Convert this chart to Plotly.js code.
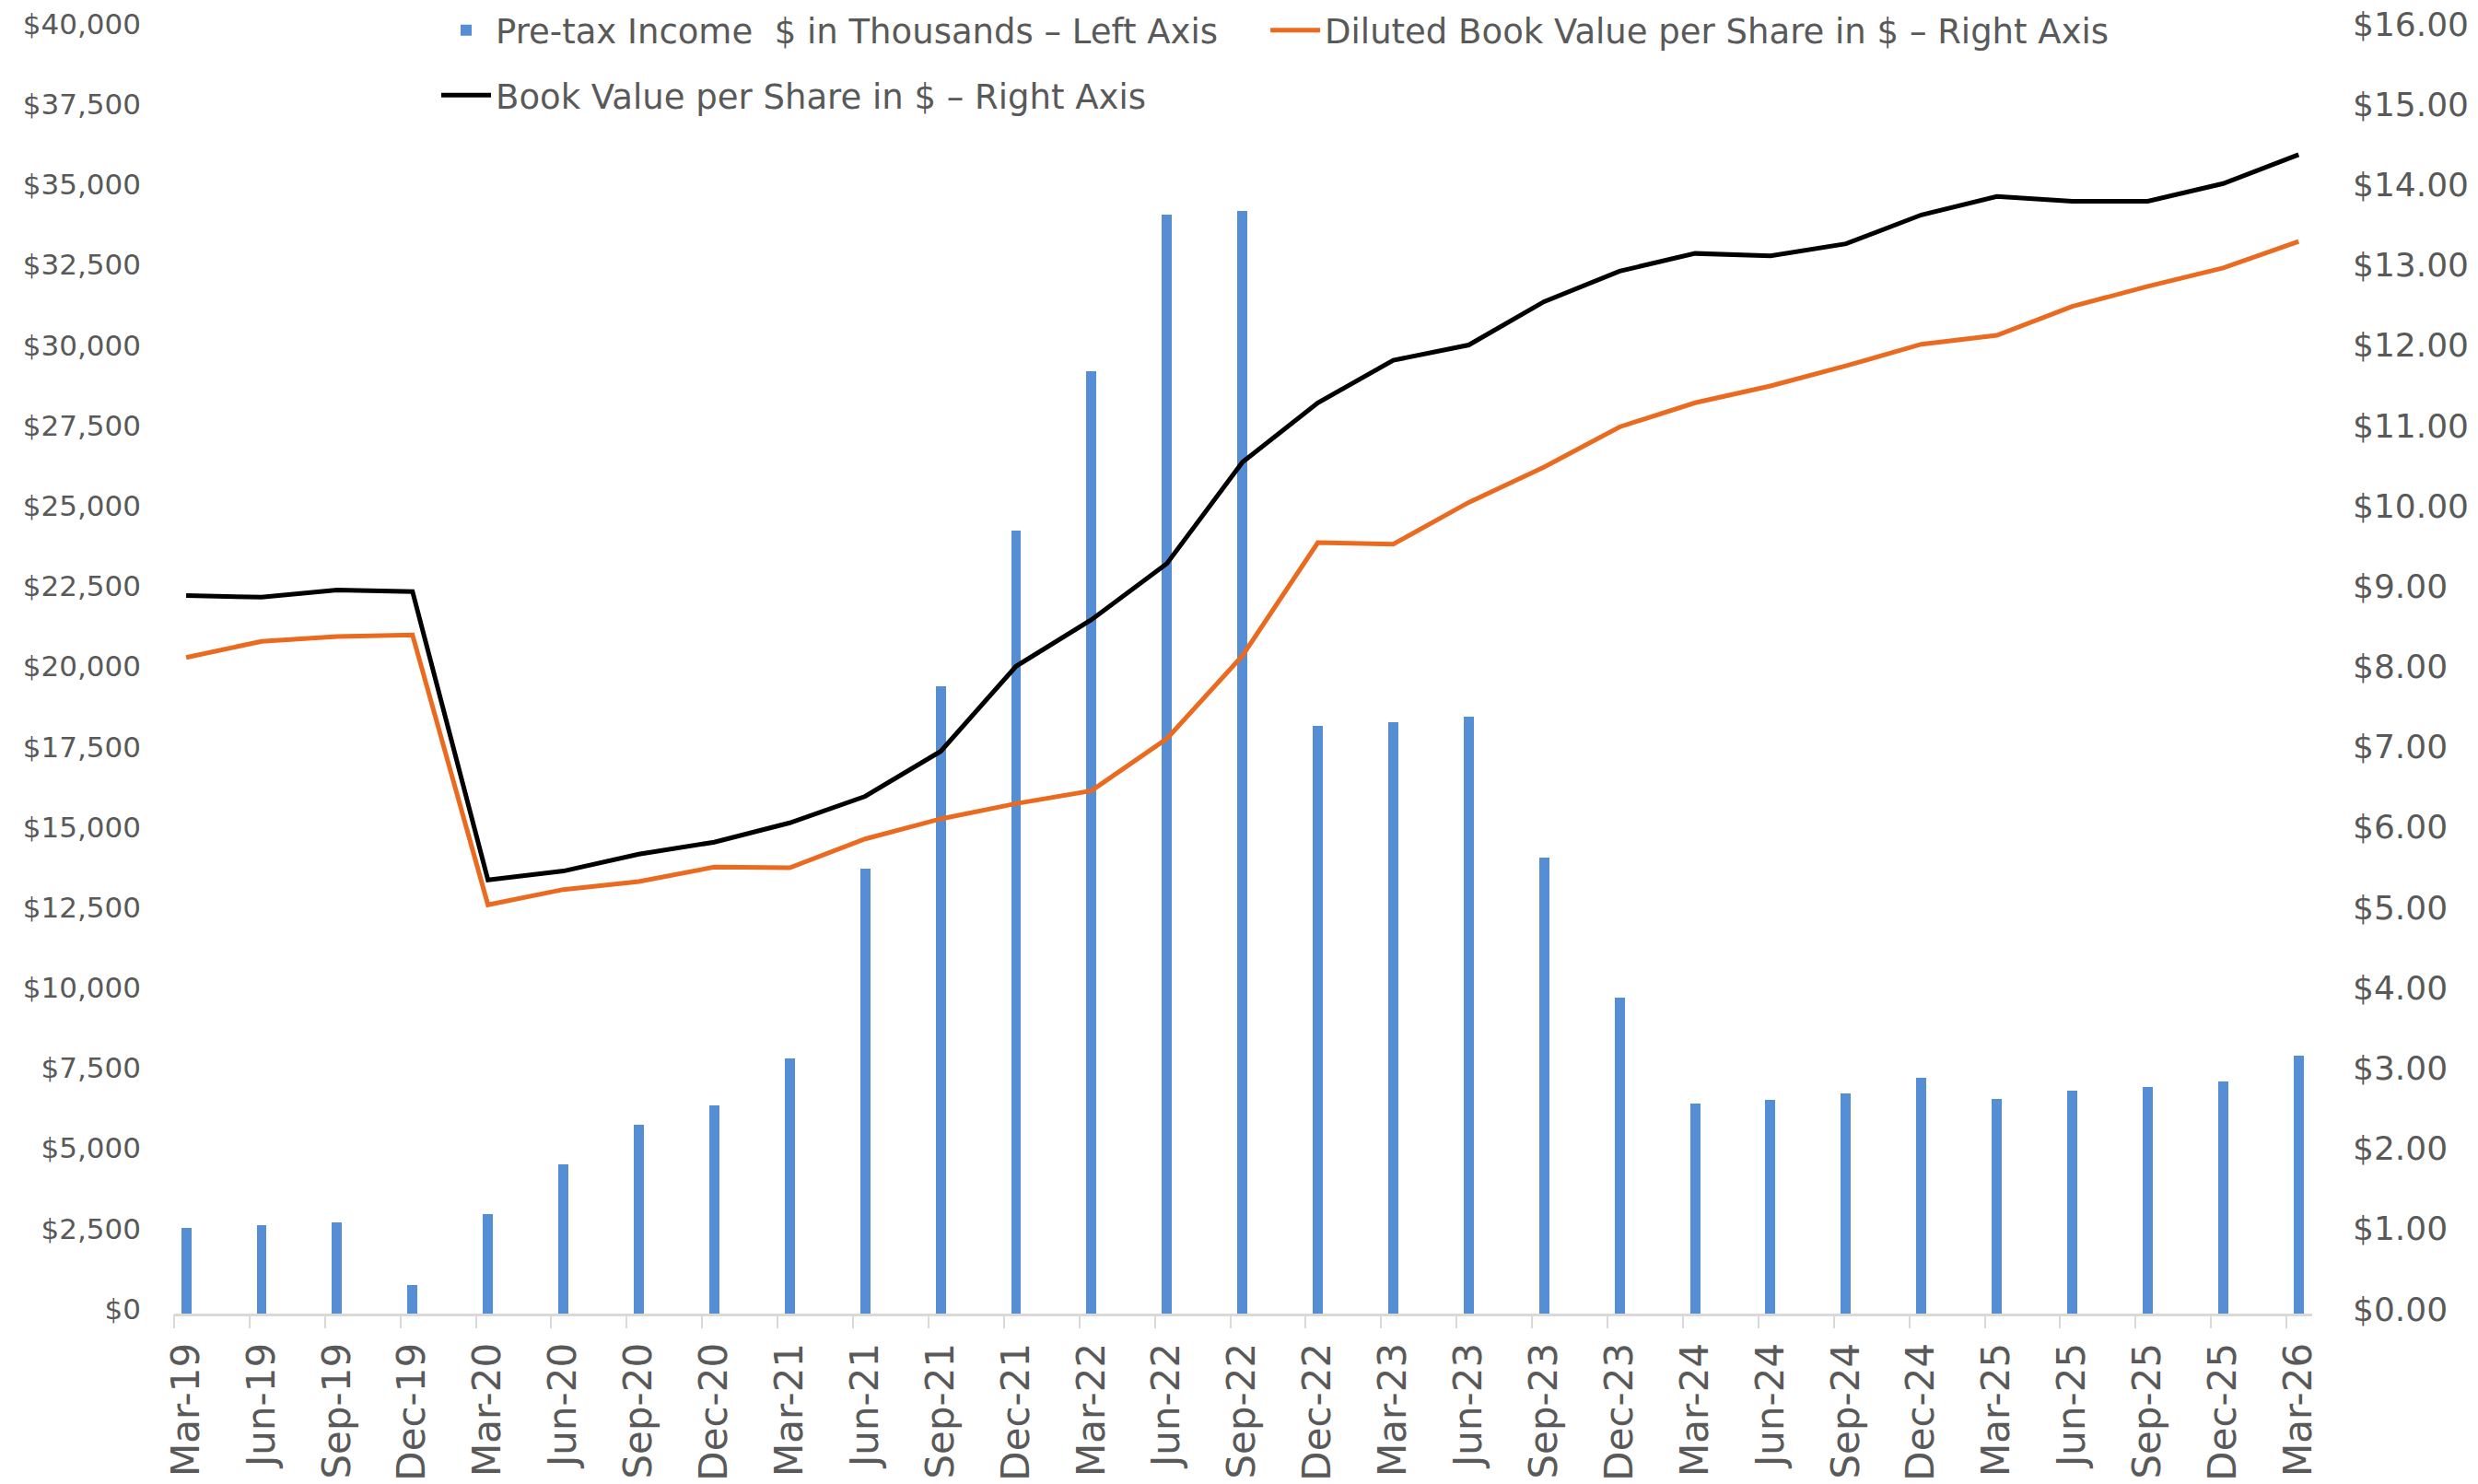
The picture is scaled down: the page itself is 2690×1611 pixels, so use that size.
<!DOCTYPE html>
<html>
<head>
<meta charset="utf-8">
<script src="https://cdn.plot.ly/plotly-3.0.1.min.js"></script>
<style>html,body{margin:0;padding:0;background:#fff;}#chart{width:2690px;height:1611px;}</style>
</head>
<body>
<div id="chart"></div>
<script>
const quarters = ['Mar-19','Jun-19','Sep-19','Dec-19','Mar-20','Jun-20','Sep-20','Dec-20','Mar-21','Jun-21','Sep-21','Dec-21','Mar-22','Jun-22','Sep-22','Dec-22','Mar-23','Jun-23','Sep-23','Dec-23','Mar-24','Jun-24','Sep-24','Dec-24','Mar-25','Jun-25','Sep-25','Dec-25','Mar-26'];
const pretaxIncome = [2680,2760,2830,880,3110,4640,5890,6470,7930,13860,19540,24360,29330,34200,34330,18290,18420,18590,14200,9830,6550,6660,6850,7350,6690,6950,7040,7220,8030];
const dilutedBVPS = [8.17,8.37,8.43,8.45,5.09,5.28,5.38,5.56,5.55,5.91,6.16,6.35,6.51,7.16,8.19,9.60,9.58,10.10,10.54,11.04,11.34,11.55,11.80,12.07,12.18,12.54,12.79,13.02,13.35];
const bookValuePS = [8.94,8.92,9.01,8.99,5.40,5.51,5.72,5.87,6.11,6.44,7.00,8.06,8.64,9.34,10.60,11.34,11.87,12.06,12.60,12.98,13.20,13.17,13.32,13.68,13.91,13.85,13.85,14.07,14.43];
const seriesNames = ['Pre-tax Income  $ in Thousands \u2013 Left Axis','Diluted Book Value per Share in $ \u2013 Right Axis','Book Value per Share in $ \u2013 Right Axis'];

const FONT = 'DejaVu Sans';
const GREY = '#595959';
const xRange = [-0.16, 28.18];

const traces = [
  {type:'bar', x:quarters, y:pretaxIncome, name:seriesNames[0], marker:{color:'#558ED5'}, width:0.134, xaxis:'x', yaxis:'y', legend:'legend', hoverinfo:'x+y'},
  {type:'scatter', mode:'lines', x:quarters, y:dilutedBVPS, name:seriesNames[1], line:{color:'#EA6A1F', width:5}, xaxis:'x', yaxis:'y2', legend:'legend2'},
  {type:'scatter', mode:'lines', x:quarters, y:bookValuePS, name:seriesNames[2], line:{color:'#000000', width:5}, xaxis:'x', yaxis:'y2', legend:'legend3'},
  {type:'scatter', mode:'lines', x:[], y:[], xaxis:'x2', yaxis:'y', showlegend:false, hoverinfo:'skip'}
];

const legendBase = {orientation:'h', font:{family:FONT, size:37, color:GREY}, bgcolor:'rgba(0,0,0,0)', borderwidth:0, xanchor:'left', yanchor:'middle', itemwidth:54, itemclick:false};

const layout = {
  width:2690, height:1611,
  margin:{l:189, r:180, t:31, b:185, pad:0, autoexpand:false},
  paper_bgcolor:'#ffffff', plot_bgcolor:'#ffffff',
  showlegend:true,
  bargap:0,
  xaxis:{type:'category', range:xRange, showgrid:false, zeroline:false, showline:true, linecolor:'#D9D9D9', linewidth:3,
         ticks:'', tickangle:-90, tickfont:{family:FONT, size:42, color:GREY}, ticklabelstandoff:12, automargin:false},
  xaxis2:{type:'linear', overlaying:'x', anchor:'y', side:'bottom', range:xRange, tickmode:'array',
          tickvals:quarters.map((q,i)=>i-0.16), ticks:'outside', ticklen:15, tickwidth:2, tickcolor:'#D9D9D9',
          showticklabels:false, showgrid:false, zeroline:false, showline:false},
  yaxis:{range:[0,40000], dtick:2500, tick0:0, tickprefix:'$', tickformat:',d', showgrid:false, zeroline:false, showline:false,
         ticks:'', tickfont:{family:FONT, size:31, color:GREY}, ticklabelstandoff:35, ticklabelshift:-5, automargin:false},
  yaxis2:{range:[0,16], dtick:1, tick0:0, tickprefix:'$', tickformat:'.2f', overlaying:'y', side:'right', anchor:'x',
          showgrid:false, zeroline:false, showline:false, ticks:'', tickfont:{family:FONT, size:36, color:GREY}, ticklabelstandoff:43, ticklabelshift:-5, automargin:false},
  legend:Object.assign({}, legendBase, {x:0.1228, y:0.9984}),
  legend2:Object.assign({}, legendBase, {x:0.5106, y:0.9984}),
  legend3:Object.assign({}, legendBase, {x:0.1228, y:0.9478})
};

Plotly.newPlot('chart', traces, layout, {staticPlot:true, displayModeBar:false});
</script>
</body>
</html>
